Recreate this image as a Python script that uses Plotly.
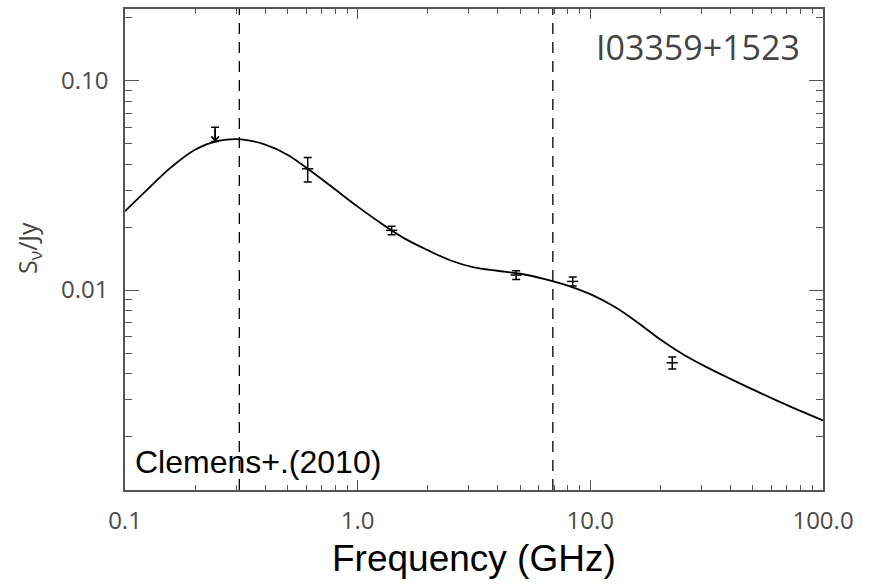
import numpy as np
import plotly.graph_objects as go

# Radio SED of I03359+1523 (Clemens et al. 2010)
freq_obs = [0.61, 1.4, 4.8, 8.4, 22.5]                  # GHz
flux_obs = [0.0380, 0.0193, 0.0118, 0.0110, 0.00449]    # Jy
err_obs = [0.0051, 0.0009, 0.00057, 0.00055, 0.00030]

# upper limit at low frequency
freq_lim = [0.244]
flux_lim = [0.0514]
flux_lim_top = [0.0600]

# fitted model curve
freq_model = [0.1, 0.126, 0.158, 0.2, 0.251, 0.316, 0.398, 0.501, 0.631, 0.794,
              1.0, 1.26, 1.58, 2.0, 2.51, 3.16, 3.98, 5.01, 6.31, 7.94,
              10.0, 12.6, 15.8, 20.0, 25.1, 31.6, 39.8, 50.1, 63.1, 79.4, 100.0]
flux_model = [0.02385, 0.03056, 0.03870, 0.04692, 0.05167, 0.05260, 0.04974, 0.04428,
              0.03699, 0.03050, 0.02506, 0.02087, 0.01772, 0.01552, 0.01385, 0.01284,
              0.01237, 0.01197, 0.01132, 0.01054, 0.00956, 0.00836, 0.00706, 0.00580,
              0.00492, 0.00428, 0.00377, 0.00334, 0.00297, 0.00265, 0.00238]

# turnover frequencies marked by dashed lines
break_freqs = [0.31, 6.9]

x_ticks = [0.1, 1.0, 10.0, 100.0]
x_ticktext = ["0.1", "1.0", "10.0", "100.0"]
y_ticks = [0.01, 0.1]
y_ticktext = ["0.01", "0.10"]

X_RANGE = [-1, 2]
Y_RANGE = [-2.956, -0.656]

AX = "#555555"
fig = go.Figure()

fig.add_trace(go.Scatter(
    x=freq_model, y=flux_model, mode="lines",
    line=dict(color="black", width=1.8, shape="spline", smoothing=1.0),
    hoverinfo="skip", showlegend=False))

fig.add_trace(go.Scatter(
    x=freq_obs, y=flux_obs, mode="markers",
    marker=dict(symbol="line-ew", size=8, line=dict(color="black", width=1.5)),
    error_y=dict(type="data", array=err_obs, color="black", thickness=1.5, width=4),
    showlegend=False))

fig.add_trace(go.Scatter(
    x=freq_lim, y=flux_lim, mode="markers",
    marker=dict(size=1, color="rgba(0,0,0,0)"),
    error_y=dict(type="data", array=[t - f for t, f in zip(flux_lim_top, flux_lim)],
                 arrayminus=[0], color="black", thickness=1.5, width=4),
    showlegend=False))

for f, lo, hi in zip(freq_lim, flux_lim, flux_lim_top):
    fig.add_annotation(x=np.log10(f), y=np.log10(lo), ax=np.log10(f), ay=np.log10(hi),
                       xref="x", yref="y", axref="x", ayref="y", text="",
                       showarrow=True, arrowhead=4, arrowsize=1, arrowwidth=1.5,
                       arrowcolor="black", standoff=0)

for f in break_freqs:
    fig.add_shape(type="line", xref="x", yref="paper", x0=f, x1=f, y0=0, y1=1,
                  line=dict(color="black", width=1.3, dash="11px,8px"))

# invisible copy on the mirrored axes so the top/right ticks are drawn
fig.add_trace(go.Scatter(
    x=freq_model, y=flux_model, mode="lines", xaxis="x2", yaxis="y2",
    line=dict(color="rgba(0,0,0,0)", width=0), hoverinfo="skip", showlegend=False))

tickfont = dict(family="Open Sans", size=24, color="#4a4a4a")
common_x = dict(type="log", range=X_RANGE, tickvals=x_ticks,
                ticks="inside", ticklen=10, tickwidth=1.3, tickcolor=AX,
                minor=dict(ticks="inside", ticklen=5, tickwidth=1.3, tickcolor=AX,
                           dtick="D1", showgrid=False),
                showgrid=False, zeroline=False)
common_y = dict(type="log", range=Y_RANGE, tickvals=y_ticks,
                ticks="inside", ticklen=14, tickwidth=1.3, tickcolor=AX,
                minor=dict(ticks="inside", ticklen=7, tickwidth=1.3, tickcolor=AX,
                           dtick="D1", showgrid=False),
                showgrid=False, zeroline=False)

fig.update_layout(
    xaxis=dict(**common_x, ticktext=x_ticktext, tickfont=tickfont, ticklabelstandoff=8,
               showline=True, linecolor=AX, linewidth=1.5, mirror=True),
    yaxis=dict(**common_y, ticktext=y_ticktext, tickfont=tickfont, ticklabelstandoff=10,
               showline=True, linecolor=AX, linewidth=1.5, mirror=True),
    xaxis2=dict(**common_x, overlaying="x", side="top", anchor="y",
                showticklabels=False, showline=False),
    yaxis2=dict(**common_y, overlaying="y", side="right", anchor="x",
                showticklabels=False, showline=False),
)

fig.add_annotation(text="I03359+1523", xref="paper", yref="paper", x=0.970, y=0.921,
                   xanchor="right", yanchor="middle", showarrow=False,
                   font=dict(family="Open Sans", size=34, color="#444444"))
fig.add_annotation(text="Clemens+.(2010)", xref="paper", yref="paper", x=0.0115, y=0.058,
                   xanchor="left", yanchor="middle", showarrow=False,
                   font=dict(family="Liberation Sans", size=32, color="black"))
fig.add_annotation(text="Frequency (GHz)", xref="paper", yref="paper", x=0.5, y=-0.143,
                   xanchor="center", yanchor="middle", showarrow=False,
                   font=dict(family="Liberation Sans", size=37, color="black"))
fig.add_annotation(text="S<sub>ν</sub>/Jy", xref="paper", yref="paper", x=-0.139, y=0.503,
                   xanchor="center", yanchor="middle", showarrow=False, textangle=-90,
                   font=dict(family="Open Sans", size=25, color="#444444"))

fig.update_layout(width=871, height=584, margin=dict(l=125, r=48, t=7, b=94),
                  plot_bgcolor="white", paper_bgcolor="white")

fig.write_html("out.html")
